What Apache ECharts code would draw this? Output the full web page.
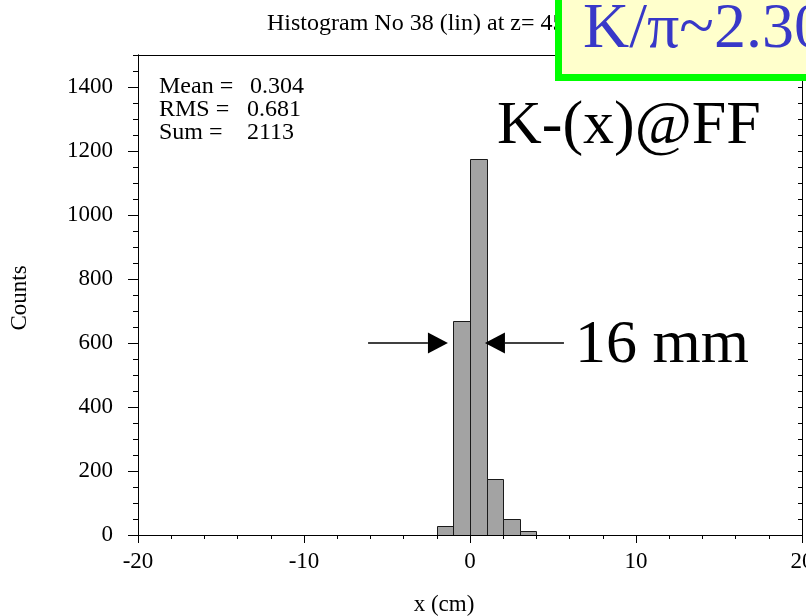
<!DOCTYPE html>
<html><head><meta charset="utf-8">
<script src="https://cdn.jsdelivr.net/npm/echarts@6/dist/echarts.min.js"></script>
<style>html,body{margin:0;padding:0;background:#fff}#c{width:806px;height:616px}</style>
</head><body><div id="c"></div>
<script>
// ---- data ----
const binLow = [-2, -1, 0, 1, 2, 3];
const binHigh = [-1, 0, 1, 2, 3, 4];
const counts = [28, 668, 1175, 174, 49, 13];
const xTickLabels = [-20, -10, 0, 10, 20];
const yTickLabels = [0, 200, 400, 600, 800, 1000, 1200, 1400];
const statNames = ['Mean =', 'RMS =', 'Sum ='];
const statValues = ['0.304', '0.681', '2113'];
const arrowFrom = [-6.14, 5.66];
const arrowTip = [-1.33, 0.90];
const arrowLevel = [600, 600];
const titleText = 'Histogram No 38 (lin) at z= 450';
const ratioText = 'K/\u03c0~2.30';
const particleText = 'K-(x)@FF';
const widthText = '16 mm';
const xName = 'x (cm)';
const yName = 'Counts';

const FONT = '"Liberation Serif", "Times New Roman", serif';
const chart = echarts.init(document.getElementById('c'), null, {renderer: 'canvas'});

const black = '#000';
const baseAxis = {
  type: 'value', splitLine: {show: false},
  axisLine: {show: true, onZero: false, lineStyle: {color: black, width: 1}}
};

const statGraphics = [];
statNames.forEach((n, i) => {
  statGraphics.push({type: 'text', z: 50, x: 159, y: 87 + i * 23,
    style: {text: n, font: '24px ' + FONT, fill: black, verticalAlign: 'middle'}});
  statGraphics.push({type: 'text', z: 50, x: i === 0 ? 250 : 247, y: 87 + i * 23,
    style: {text: statValues[i], font: '24px ' + FONT, fill: black, verticalAlign: 'middle'}});
});

chart.setOption({
  animation: false,
  backgroundColor: '#fff',
  grid: {left: 138, right: 4, top: 55, bottom: 81, outerBoundsMode: 'none', containLabel: false},
  xAxis: [
    Object.assign({}, baseAxis, {
      min: -20, max: 20, interval: 10, position: 'bottom',
      axisTick: {show: true, length: 8, lineStyle: {color: black}},
      minorTick: {show: true, splitNumber: 5, length: 4, lineStyle: {color: black}},
      axisLabel: {customValues: xTickLabels, fontFamily: FONT, fontSize: 23, color: black, margin: 15,
                  formatter: v => String(v)}
    }),
    Object.assign({}, baseAxis, {
      min: -20, max: 20, position: 'top',
      axisTick: {show: false}, axisLabel: {show: false}
    })
  ],
  yAxis: [
    Object.assign({}, baseAxis, {
      min: 0, max: 1500, interval: 50, position: 'left',
      axisTick: {show: true, length: 5, lineStyle: {color: black}},
      axisLabel: {show: false}
    }),
    Object.assign({}, baseAxis, {
      min: 0, max: 1500, position: 'left',
      axisTick: {show: true, customValues: yTickLabels, length: 10, lineStyle: {color: black}},
      axisLabel: {customValues: yTickLabels, fontFamily: FONT, fontSize: 23, color: black, margin: 25,
                  formatter: v => String(v)}
    }),
    Object.assign({}, baseAxis, {
      min: 0, max: 1500, interval: 50, position: 'right',
      axisTick: {show: true, inside: true, length: 4, lineStyle: {color: black}},
      axisLabel: {show: false}
    })
  ],
  series: [
    {
      type: 'custom', xAxisIndex: 0, yAxisIndex: 0, clip: true,
      data: binLow.map((l, i) => [l, binHigh[i], counts[i]]),
      encode: {x: [0, 1], y: 2},
      renderItem: function (params, api) {
        const p0 = api.coord([api.value(0), api.value(2)]);
        const p1 = api.coord([api.value(1), 0]);
        return {type: 'rect',
          shape: {x: Math.round(p0[0]) + 0.5, y: Math.round(p0[1]) + 0.5,
                  width: Math.round(p1[0]) - Math.round(p0[0]), height: Math.round(p1[1]) - Math.round(p0[1])},
          style: {fill: '#a3a3a3', stroke: '#1a1a1a', lineWidth: 1}};
      }
    },
    {
      type: 'custom', xAxisIndex: 0, yAxisIndex: 0, z: 5,
      data: arrowFrom.map((f, i) => [f, arrowTip[i], arrowLevel[i]]),
      encode: {x: [0, 1], y: 2},
      renderItem: function (params, api) {
        const a = api.coord([api.value(0), api.value(2)]);
        const t = api.coord([api.value(1), api.value(2)]);
        const dir = t[0] > a[0] ? 1 : -1;
        const headL = 20, headH = 10.5;
        const bx = t[0] - dir * headL;
        return {type: 'group', children: [
          {type: 'line', shape: {x1: a[0], y1: t[1], x2: bx, y2: t[1]},
           style: {stroke: black, lineWidth: 1.5}},
          {type: 'polygon', shape: {points: [[t[0], t[1]], [bx, t[1] - headH], [bx, t[1] + headH]]},
           style: {fill: black}}
        ]};
      }
    }
  ],
  graphic: [
    {type: 'text', z: 10, x: 267, y: 24,
     style: {text: titleText, font: '24px ' + FONT, fill: black, verticalAlign: 'middle'}},
    {type: 'rect', z: 60, shape: {x: 558.5, y: -10, width: 320, height: 87.5},
     style: {fill: '#ffffcc', stroke: '#00ff00', lineWidth: 7}},
    {type: 'text', z: 61, x: 583, y: 30,
     style: {text: ratioText, font: '64px ' + FONT, fill: '#3838c8', verticalAlign: 'middle'}},
    {type: 'text', z: 50, x: 497, y: 127,
     style: {text: particleText, font: '62px ' + FONT, fill: black, verticalAlign: 'middle'}},
    {type: 'text', z: 50, x: 575, y: 346,
     style: {text: widthText, font: '62px ' + FONT, fill: black, verticalAlign: 'middle'}},
    {type: 'text', z: 50, x: 444, y: 605,
     style: {text: xName, font: '23px ' + FONT, fill: black, align: 'center', verticalAlign: 'middle'}},
    {type: 'text', z: 50, x: 20, y: 298, rotation: Math.PI / 2,
     style: {text: yName, font: '23px ' + FONT, fill: black, align: 'center', verticalAlign: 'middle'}}
  ].concat(statGraphics)
});
</script>
</body></html>
